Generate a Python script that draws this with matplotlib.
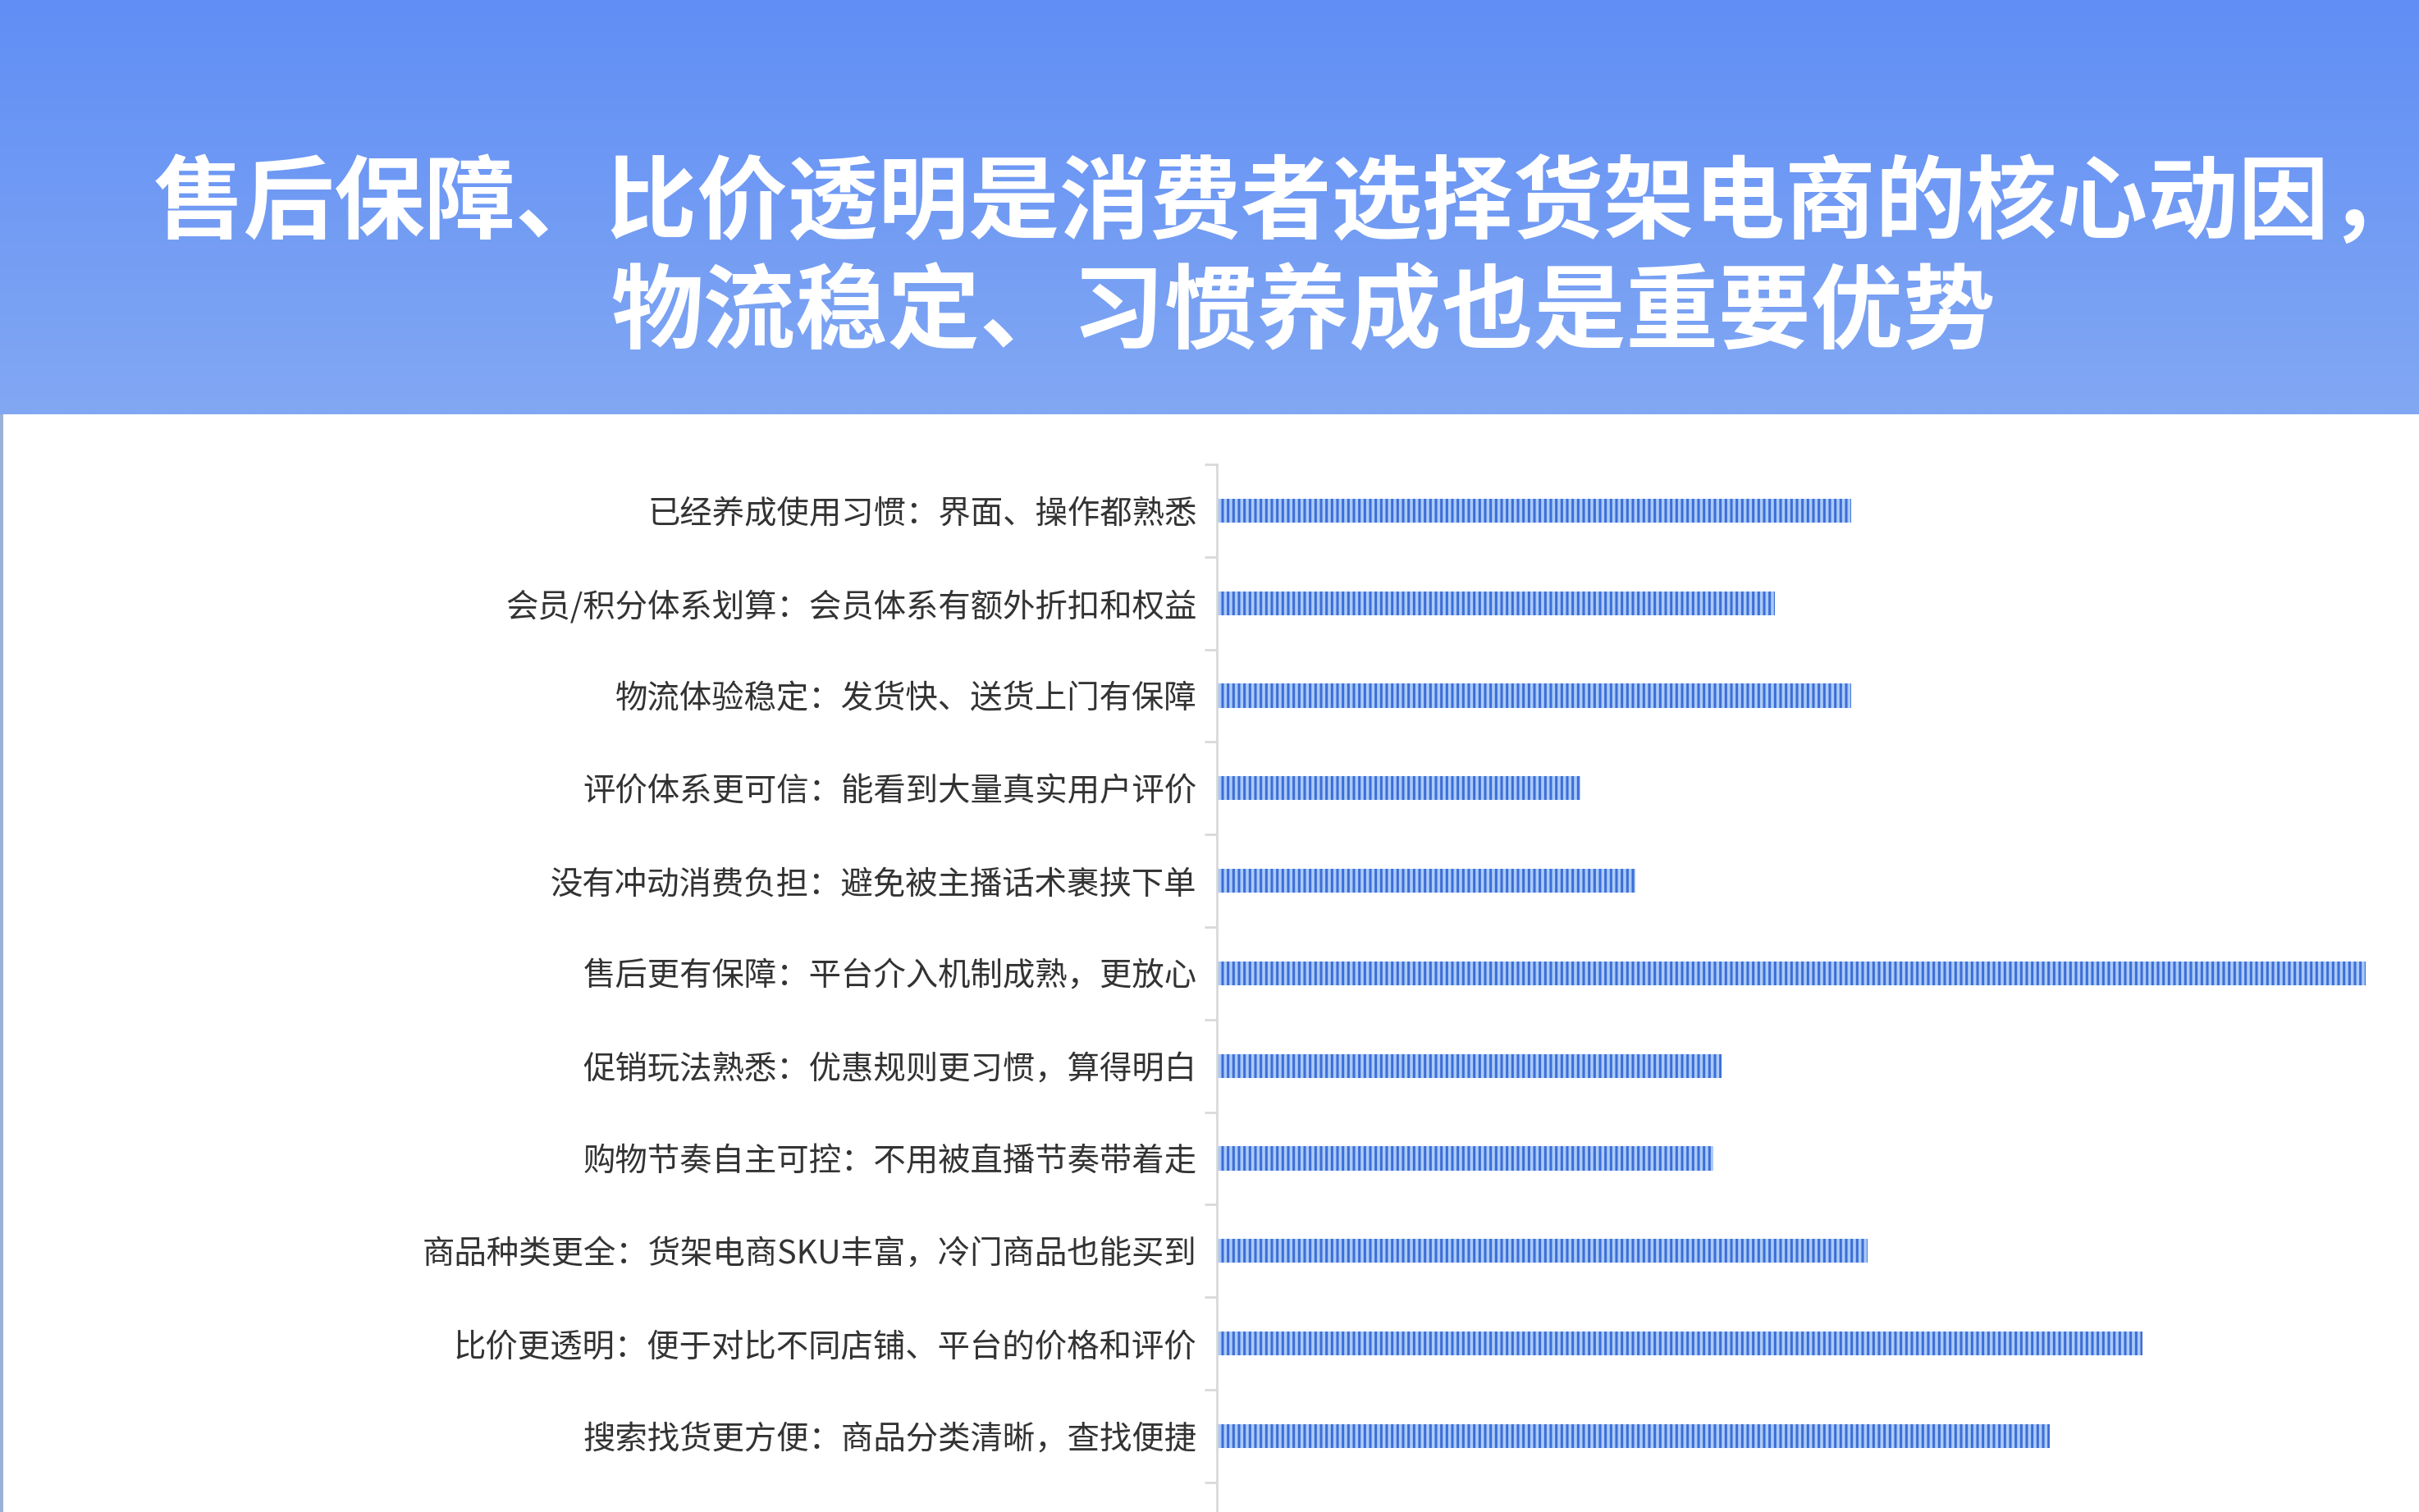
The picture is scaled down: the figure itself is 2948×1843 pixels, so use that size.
import matplotlib
matplotlib.use("Agg")
import matplotlib.pyplot as plt
import numpy as np

plt.rcParams['font.family'] = ['Noto Sans CJK SC', 'DejaVu Sans']
plt.rcParams['hatch.linewidth'] = 1.1

# data (top to bottom as shown)
labels = [
    "已经养成使用习惯：界面、操作都熟悉",
    "会员/积分体系划算：会员体系有额外折扣和权益",
    "物流体验稳定：发货快、送货上门有保障",
    "评价体系更可信：能看到大量真实用户评价",
    "没有冲动消费负担：避免被主播话术裹挟下单",
    "售后更有保障：平台介入机制成熟，更放心",
    "促销玩法熟悉：优惠规则更习惯，算得明白",
    "购物节奏自主可控：不用被直播节奏带着走",
    "商品种类更全：货架电商SKU丰富，冷门商品也能买到",
    "比价更透明：便于对比不同店铺、平台的价格和评价",
    "搜索找货更方便：商品分类清晰，查找便捷",
]
values = [30.9, 27.2, 30.9, 17.7, 20.4, 56.0, 24.6, 24.2, 31.7, 45.1, 40.6]

title1 = "售后保障、比价透明是消费者选择货架电商的核心动因，"
title2 = "物流稳定、习惯养成也是重要优势"

W, H = 2948, 1843
DPI = 200
fig = plt.figure(figsize=(W / DPI, H / DPI), dpi=DPI)
fig.patch.set_facecolor("white")

# header gradient
header_h = 505 / H
hax = fig.add_axes([0, 1 - header_h, 1, header_h])
top = np.array([0x60, 0x8e, 0xf5]) / 255
bot = np.array([0x82, 0xa8, 0xf3]) / 255
t = np.linspace(0, 1, 256)[:, None]
grad = top[None, None, :] * (1 - t[:, :, None]) + bot[None, None, :] * t[:, :, None]
grad = np.repeat(grad, 4, axis=1)
hax.imshow(grad, aspect="auto", extent=[0, 1, 0, 1])
hax.set_xlim(0, 1)
hax.set_ylim(0, 1)
hax.axis("off")
hax.text(1568 / W, 1 - 250 / 505, title1, transform=hax.transAxes, ha="center", va="center",
         color="white", fontsize=39.8, fontweight="bold")
hax.text(1588 / W, 1 - 384 / 505, title2, transform=hax.transAxes, ha="center", va="center",
         color="white", fontsize=40.5, fontweight="bold")

# thin left strip below header
sax = fig.add_axes([0, 0, 4 / W, 1 - header_h])
sax.set_facecolor("#9bb0d6")
sax.set_xticks([])
sax.set_yticks([])
for s in sax.spines.values():
    s.set_visible(False)

# chart
left = 1483 / W
top_px = 566
ax = fig.add_axes([left, 0, 1 - left, 1 - top_px / H])
unit = 112.8
y = np.arange(len(labels))
ax.barh(y, values, height=0.26, color="#a9cbf8", edgecolor="#3f6dd6",
        linewidth=0, hatch="|||||")
xmax = (W - 1483) / 25.0
ax.set_xlim(0, xmax)
ax.set_ylim(-0.5 + (H - top_px) / unit, -0.5)

ax.set_yticks(y)
ax.set_yticklabels(labels, fontsize=14.2, color="#333333")
ax.tick_params(axis="y", which="major", length=0, pad=8.8)
ax.set_yticks(np.arange(-0.5, len(labels) + 0.5, 1), minor=True)
ax.tick_params(axis="y", which="minor", length=5.5, color="#d9d9d9", width=1)
ax.set_xticks([])
for s in ["top", "right", "bottom"]:
    ax.spines[s].set_visible(False)
ax.spines["left"].set_color("#d9d9d9")
ax.spines["left"].set_linewidth(1)
ax.set_facecolor("none")

fig.savefig("out.png", dpi=DPI, facecolor=fig.get_facecolor())
